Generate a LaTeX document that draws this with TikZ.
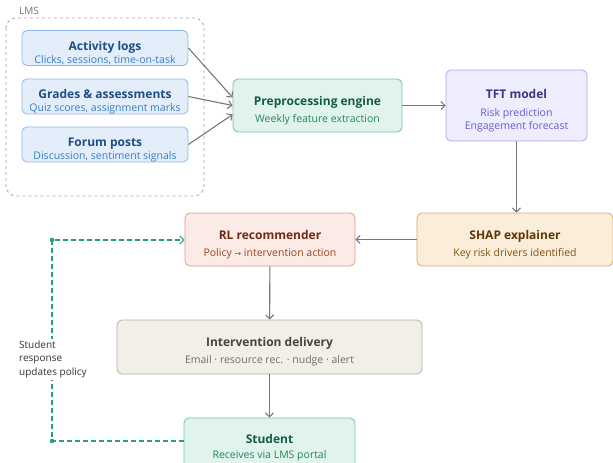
\documentclass[tikz,border=0pt]{standalone}
\usepackage{fontspec}
\setmainfont{Open Sans}
\usetikzlibrary{arrows.meta}

\definecolor{inFill}{HTML}{E4EEFA}
\definecolor{inDraw}{HTML}{92B8E4}
\definecolor{inTitle}{HTML}{1F4E86}
\definecolor{inSub}{HTML}{3A7CC4}
\definecolor{grFill}{HTML}{E1F4EC}
\definecolor{grDraw}{HTML}{72C2A0}
\definecolor{grTitle}{HTML}{135C44}
\definecolor{grSub}{HTML}{21845F}
\definecolor{puFill}{HTML}{EEEDFD}
\definecolor{puDraw}{HTML}{ABA6EC}
\definecolor{puTitle}{HTML}{3C3489}
\definecolor{puSub}{HTML}{6A5BD0}
\definecolor{orFill}{HTML}{FAEEDA}
\definecolor{orDraw}{HTML}{DCA868}
\definecolor{orTitle}{HTML}{5E3607}
\definecolor{orSub}{HTML}{85500F}
\definecolor{rdFill}{HTML}{FBEAE6}
\definecolor{rdDraw}{HTML}{DB9C8C}
\definecolor{rdTitle}{HTML}{6E2A14}
\definecolor{rdSub}{HTML}{A0431F}
\definecolor{gyFill}{HTML}{F1EFE8}
\definecolor{gyDraw}{HTML}{B4B2A9}
\definecolor{gyTitle}{HTML}{444441}
\definecolor{gySub}{HTML}{6F6E69}
\definecolor{flowGray}{HTML}{777777}
\definecolor{fbGreen}{HTML}{26A27A}

\tikzset{
  box/.style={rectangle, rounded corners=5pt, draw, line width=0.8pt, inner sep=0pt, align=center},
  inbox/.style={box, fill=inFill, draw=inDraw, minimum width=166pt, minimum height=35pt},
  flowarrow/.style={draw=flowGray, line width=1.1pt, -{Straight Barb[length=4pt, width=8pt]}},
  fbline/.style={draw=fbGreen, dash pattern=on 5pt off 3pt, line width=1.1pt},
}
% title line carries a strut so the text block sits a little low, as in the source
\newcommand{\ttl}[2]{{\color{#1}\fontsize{12}{13}\selectfont\bfseries\rule{0pt}{19.5pt}#2}}
\newcommand{\sbt}[2]{{\color{#1}\fontsize{10.5}{12.5}\selectfont #2}}

\begin{document}
\begin{tikzpicture}[x=1pt, y=-1pt]
        \useasboundingbox (0,0) rectangle (613,463);

        % LMS group
        \draw[gray!70, dashed, line width=0.8pt, rounded corners=10pt] (6,18) rectangle (204,196);
        \node[anchor=west, text=gray!90!black, font=\fontsize{10}{11}\selectfont, inner sep=1pt] (lms) at (18,11) {LMS};

        % Nodes
        \node[inbox] (logs) at (105,48) {\ttl{inTitle}{Activity logs}\\[0.5pt]\sbt{inSub}{Clicks, sessions, time-on-task}};
        \node[inbox] (grades) at (105,96.5) {\ttl{inTitle}{Grades \& assessments}\\[0.5pt]\sbt{inSub}{Quiz scores, assignment marks}};
        \node[inbox] (forum) at (105,144.5) {\ttl{inTitle}{Forum posts}\\[0.5pt]\sbt{inSub}{Discussion, sentiment signals}};
        \node[box, fill=grFill, draw=grDraw, minimum width=169pt, minimum height=53pt] (prep) at (317.5,105.5) {\ttl{grTitle}{Preprocessing engine}\\[5pt]\sbt{grSub}{Weekly feature extraction}};
        \node[box, fill=puFill, draw=puDraw, minimum width=141pt, minimum height=71pt] (tft) at (516.5,105.5) {\ttl{puTitle}{TFT model}\\[6pt]\sbt{puSub}{Risk prediction}\\[1pt]\sbt{puSub}{Engagement forecast}};
        \node[box, fill=orFill, draw=orDraw, minimum width=196pt, minimum height=53pt] (shap) at (515,239.5) {\ttl{orTitle}{SHAP explainer}\\[5pt]\sbt{orSub}{Key risk drivers identified}};
        \node[box, fill=rdFill, draw=rdDraw, minimum width=170pt, minimum height=53pt] (rl) at (270,239.5) {\ttl{rdTitle}{RL recommender}\\[5pt]\sbt{rdSub}{Policy {\fontspec{DejaVu Sans}\fontsize{8}{9}\selectfont→} intervention action}};
        \node[box, fill=gyFill, draw=gyDraw, minimum width=305pt, minimum height=54pt] (deliv) at (269.5,347) {\ttl{gyTitle}{Intervention delivery}\\[5pt]\sbt{gySub}{Email · resource rec. · nudge · alert}};
        \node[box, fill=grFill, draw=grDraw, minimum width=171pt, minimum height=50pt] (student) at (269.5,443) {\ttl{grTitle}{Student}\\[3pt]\sbt{grSub}{Receives via LMS portal}};

        % Edges
        \draw[flowarrow] (logs.east) -- ([yshift=8pt]prep.west);
        \draw[flowarrow] (grades.east) -- (prep.west);
        \draw[flowarrow] (forum.east) -- ([yshift=-9pt]prep.west);
        \draw[flowarrow] (prep) -- (tft);
        \draw[flowarrow] (tft) -- (tft |- shap.north);
        \draw[flowarrow] (shap) -- (rl);
        \draw[flowarrow] (rl) -- (deliv);
        \draw[flowarrow] (deliv) -- (student.north -| deliv);

        % Feedback loop
        \coordinate (lowturn) at (52,441);
        \coordinate (upturn) at (52,240);
        \draw[fbline, -{Straight Barb[length=4pt, width=8pt]}]
          (student.west |- lowturn) -- (lowturn) -- (upturn) -- (rl.west |- upturn);
        \fill[fbGreen] (lowturn) circle (2.3pt) (upturn) circle (2.3pt);
        \node[anchor=west, fill=white, align=left, text=gray!40!black, inner sep=2pt, font=\fontsize{10}{13.5}\selectfont] (fb) at (17,359) {Student\\response\\updates policy};
\end{tikzpicture}
\end{document}
